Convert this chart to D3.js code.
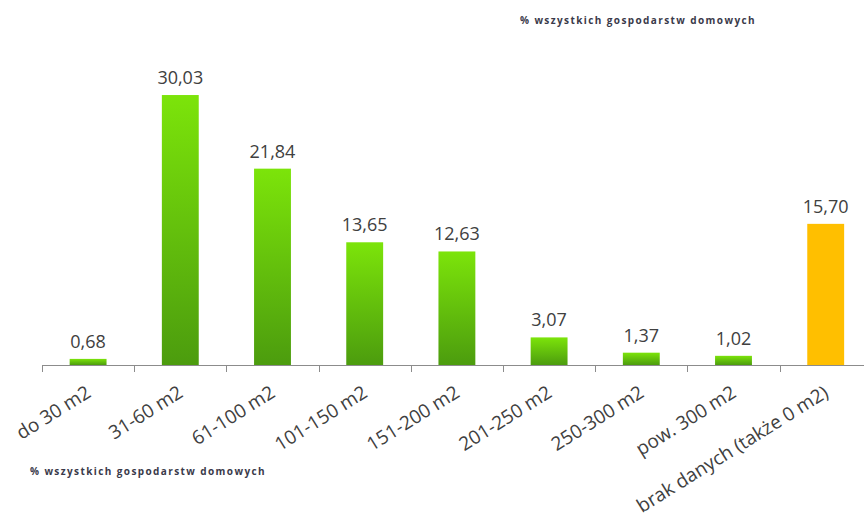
<!DOCTYPE html>
<html>
<head>
<meta charset="utf-8">
<script src="https://cdn.jsdelivr.net/npm/d3@7"></script>
<style>
  body { margin: 0; background: #fff; }
  svg { display: block; font-family: "Open Sans", sans-serif; }
</style>
</head>
<body>
<svg width="864" height="520"></svg>
<script>
const categories = ["do 30 m2", "31-60 m2", "61-100 m2", "101-150 m2", "151-200 m2",
  "201-250 m2", "250-300 m2", "pow. 300 m2", "brak danych (także 0 m2)"];
const values = [0.68, 30.03, 21.84, 13.65, 12.63, 3.07, 1.37, 1.02, 15.70];
const noteText = "% wszystkich gospodarstw domowych";

const width = 864, height = 520;
const svg = d3.select("svg");

const x = d3.scaleBand()
  .domain(categories)
  .range([42, 42 + 92.2 * categories.length])
  .paddingInner(0.6)
  .paddingOuter(0.3);

const y = d3.scaleLinear()
  .domain([0, 30])
  .range([365, 95.3]);

// gradient for green bars
const defs = svg.append("defs");
const grad = defs.append("linearGradient")
  .attr("id", "green")
  .attr("x1", 0).attr("y1", 0).attr("x2", 0).attr("y2", 1);
grad.append("stop").attr("offset", "0%").attr("stop-color", "#7ce40a");
grad.append("stop").attr("offset", "100%").attr("stop-color", "#4c9c0e");

// bars
svg.selectAll(".bar")
  .data(values)
  .enter().append("rect")
  .attr("class", "bar")
  .attr("x", (d, i) => x(categories[i]))
  .attr("width", x.bandwidth())
  .attr("y", d => y(d))
  .attr("height", d => y(0) - y(d))
  .attr("fill", (d, i) => i == categories.length - 1 ? "#ffbf00" : "url(#green)");

// value labels
svg.selectAll(".val")
  .data(values)
  .enter().append("text")
  .attr("class", "val")
  .attr("x", (d, i) => x(categories[i]) + x.bandwidth() / 2)
  .attr("y", d => y(d) - 11)
  .attr("text-anchor", "middle")
  .style("font-size", "18px")
  .style("fill", "#404040")
  .text(d => d.toFixed(2).replace(".", ","));

// x axis
const step = 92.2;
const axis = svg.append("g").attr("class", "axis");
axis.append("line")
  .attr("x1", 42).attr("x2", width)
  .attr("y1", 365.5).attr("y2", 365.5)
  .attr("stroke", "#8c8c8c");
axis.selectAll(".tick")
  .data(d3.range(categories.length + 1))
  .enter().append("line")
  .attr("x1", d => Math.round(42 + d * step) + 0.5)
  .attr("x2", d => Math.round(42 + d * step) + 0.5)
  .attr("y1", 365).attr("y2", 372)
  .attr("stroke", "#8c8c8c");

axis.selectAll(".lbl")
  .data(categories)
  .enter().append("text")
  .attr("class", "lbl")
  .attr("text-anchor", "end")
  .attr("transform", d => "translate(" + (x(d) + x.bandwidth() / 2 + 4) + ",396) rotate(-32)")
  .style("font-size", "19px")
  .style("fill", "#404040")
  .text(d => d);

// notes
svg.append("text")
  .attr("x", 520).attr("y", 24)
  .style("font-size", "10px")
  .style("font-weight", "bold")
  .style("letter-spacing", "1.4px")
  .style("fill", "#3a3a4a")
  .text(noteText);
svg.append("text")
  .attr("x", 30).attr("y", 475)
  .style("font-size", "10px")
  .style("font-weight", "bold")
  .style("letter-spacing", "1.4px")
  .style("fill", "#3a3a4a")
  .text(noteText);
</script>
</body>
</html>
